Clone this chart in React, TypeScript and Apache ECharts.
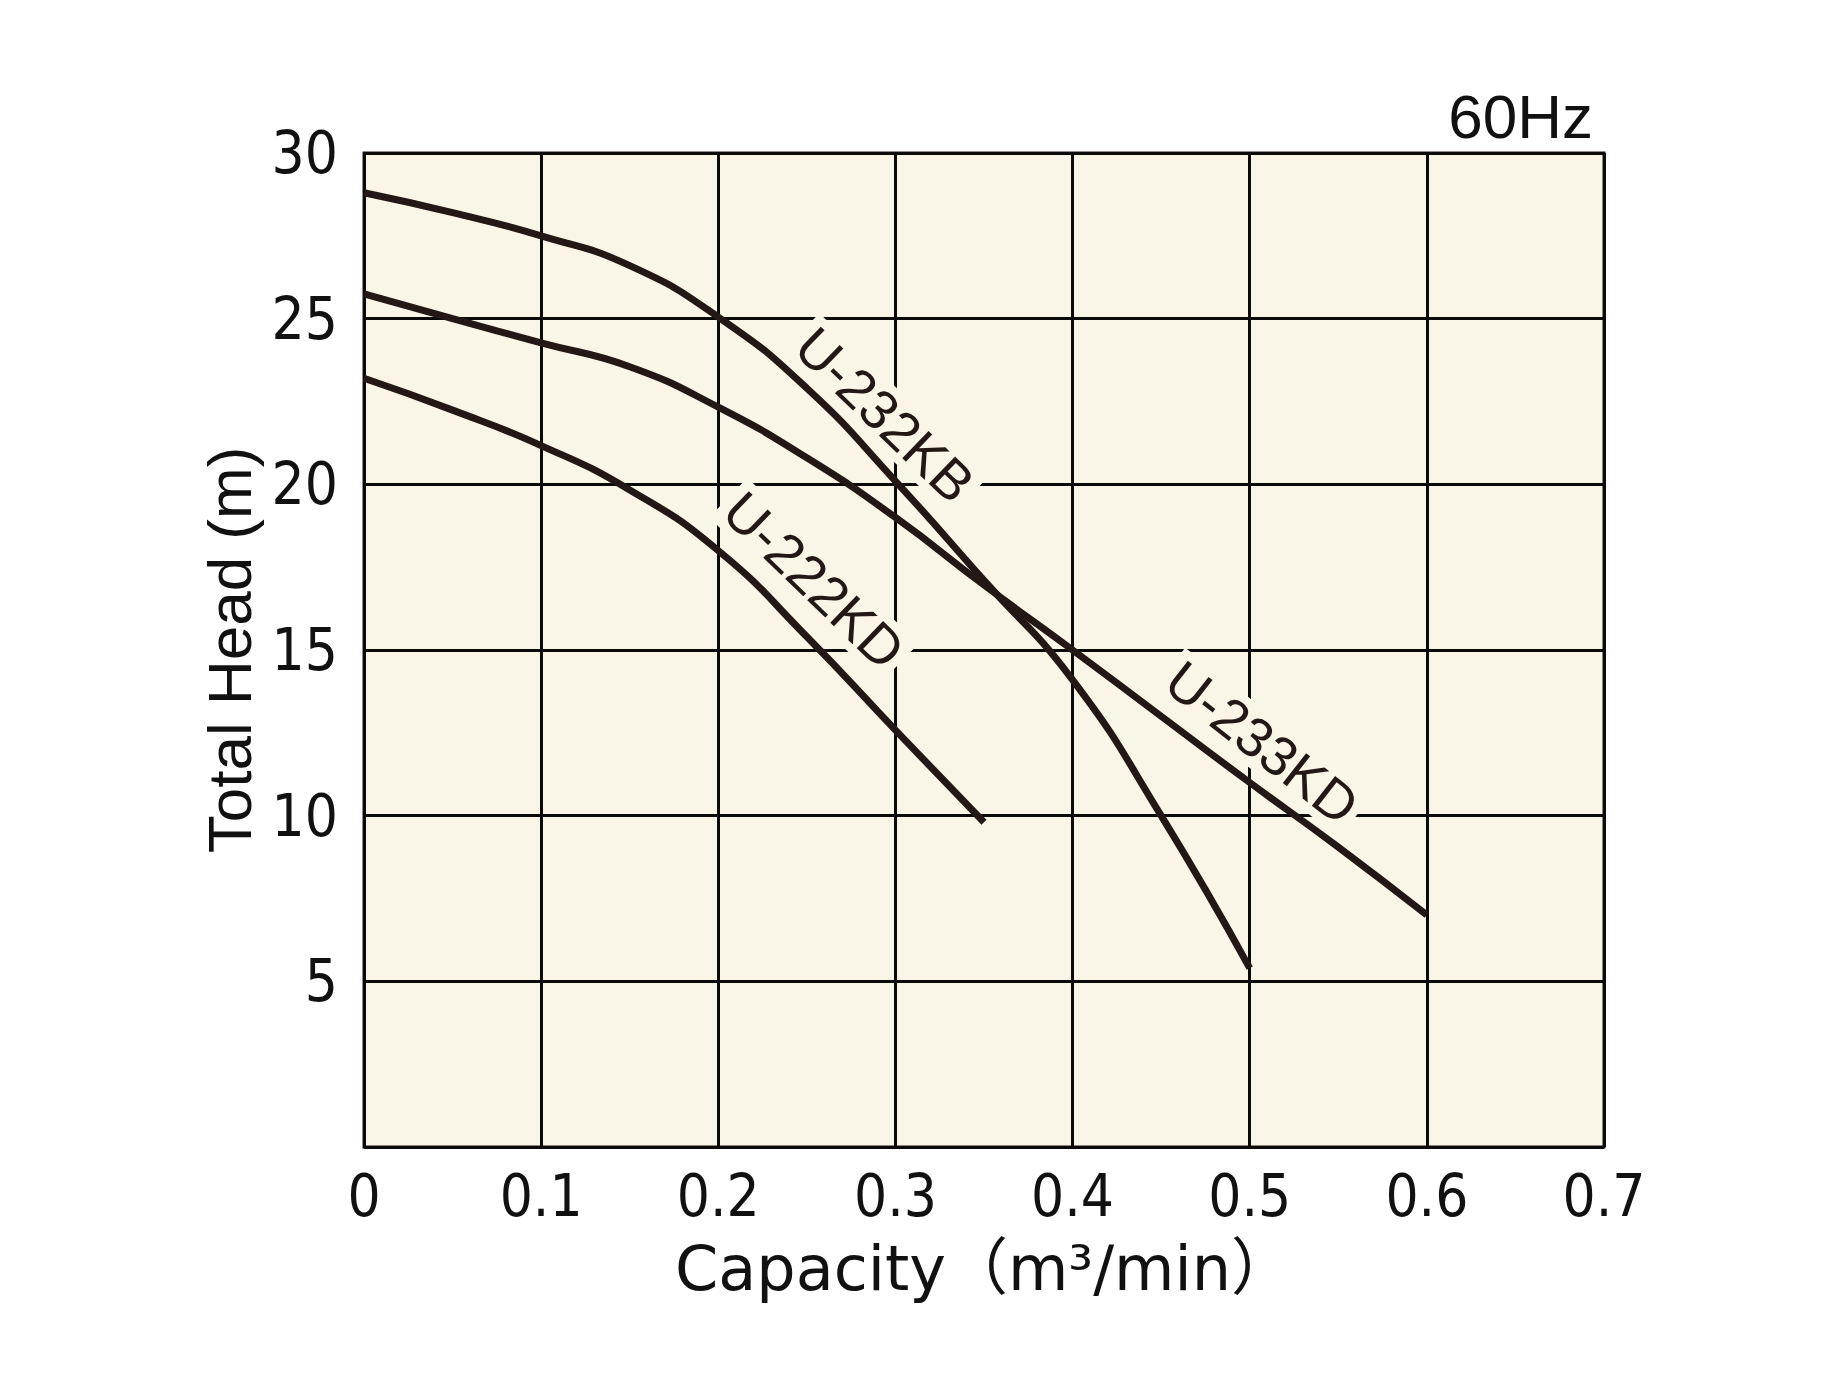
import React, { useEffect, useRef } from 'react';
import * as echarts from 'echarts';

// ---- Data ----
const capacity232KB = [0, 0.05, 0.1, 0.15, 0.2, 0.25, 0.3, 0.35, 0.4, 0.45, 0.5];
const head232KB = [28.8, 28.2, 27.5, 26.6, 25.05, 22.9, 20.1, 17.1, 14.1, 10.0, 5.4];

const capacity233KD = [0, 0.05, 0.1, 0.15, 0.2, 0.25, 0.3, 0.35, 0.4, 0.45, 0.5, 0.55, 0.6];
const head233KD = [25.75, 25.0, 24.27, 23.55, 22.33, 20.8, 19.0, 16.96, 15.0, 13.0, 11.0, 9.05, 7.0];

const capacity222KD = [0, 0.05, 0.1, 0.15, 0.2, 0.25, 0.3, 0.35];
const head222KD = [23.2, 22.24, 21.17, 19.83, 18.0, 15.4, 12.58, 9.8];

const modelNames = ['U-232KB', 'U-233KD', 'U-222KD'];
const frequencyLabel = '60Hz';
const xAxisTitle = 'Capacity（m³/min）';
const yAxisTitle = 'Total Head (m)';

// ---- Layout / style ----
const LINE_COLOR = '#231815';
const BG = '#FAF6E7';
const TICK_FONT = "'Liberation Sans Narrow', 'DejaVu Sans Condensed', 'Liberation Sans', Arial, sans-serif";
const TEXT_FONT = "'Liberation Sans', Arial, sans-serif";

// label anchor positions in data units (centre of the text), with rotation in degrees
const labelAnchors = [
  { name: modelNames[0], capacity: 0.294, head: 22.1, angle: 44 },
  { name: modelNames[1], capacity: 0.507, head: 12.2, angle: 38 },
  { name: modelNames[2], capacity: 0.254, head: 17.1, angle: 44 },
];

const zip = (xs: number[], ys: number[]) => xs.map((x, i) => [x, ys[i]]);

export default function App() {
  const ref = useRef<HTMLDivElement>(null);

  useEffect(() => {
    if (!ref.current) return;
    const chart = echarts.init(ref.current, null, { renderer: 'svg' });

    const lineSeries = (name: string, data: number[][]) => ({
      type: 'line',
      name,
      data,
      showSymbol: false,
      smooth: 0.5,
      z: 5,
      lineStyle: { color: LINE_COLOR, width: 7, cap: 'butt' },
      emphasis: { disabled: true },
    });

    chart.setOption({
      animation: false,
      backgroundColor: '#ffffff',
      grid: {
        left: 364,
        top: 153,
        width: 1240,
        height: 994,
        show: true,
        backgroundColor: BG,
        borderColor: LINE_COLOR,
        borderWidth: 3,
      },
      xAxis: {
        type: 'value',
        min: 0,
        max: 0.7,
        interval: 0.1,
        axisLine: { show: false },
        axisTick: { show: false },
        splitLine: { show: true, lineStyle: { color: '#0a0a0a', width: 3 } },
        axisLabel: {
          margin: 20,
          fontSize: 58,
          fontFamily: TICK_FONT,
          color: '#111',
          formatter: (v: number) => (v === 0 ? '0' : v.toFixed(1)),
        },
        name: xAxisTitle,
        nameLocation: 'middle',
        nameGap: 90,
        nameTextStyle: {
          fontSize: 62,
          fontFamily: "'DejaVu Sans', 'Noto Sans CJK JP', sans-serif",
          color: '#111',
        },
      },
      yAxis: {
        type: 'value',
        min: 0,
        max: 30,
        interval: 5,
        axisLine: { show: false },
        axisTick: { show: false },
        splitLine: { show: true, lineStyle: { color: '#0a0a0a', width: 3 } },
        axisLabel: {
          margin: 26,
          fontSize: 58,
          fontFamily: TICK_FONT,
          color: '#111',
          formatter: (v: number) => (v === 0 ? '' : String(v)),
        },
        name: yAxisTitle,
        nameLocation: 'middle',
        nameRotate: 90,
        nameGap: 100,
        nameTextStyle: {
          fontSize: 62,
          fontFamily: TEXT_FONT,
          color: '#111',
        },
      },
      series: [
        lineSeries(modelNames[0], zip(capacity232KB, head232KB)),
        lineSeries(modelNames[1], zip(capacity233KD, head233KD)),
        lineSeries(modelNames[2], zip(capacity222KD, head222KD)),
      ],
    });

    const labels = labelAnchors.map((a) => {
      const [px, py] = chart.convertToPixel({ gridIndex: 0 }, [a.capacity, a.head]) as number[];
      return {
        type: 'text',
        x: px,
        y: py,
        rotation: (-a.angle * Math.PI) / 180,
        z: 1,
        style: {
          text: a.name,
          align: 'center',
          verticalAlign: 'middle',
          fontSize: 55,
          fontFamily: TEXT_FONT,
          fill: LINE_COLOR,
          backgroundColor: BG,
          padding: [0, 6],
        },
      };
    });

    chart.setOption({
      graphic: [
        {
          type: 'text',
          x: 1593,
          y: 116,
          z: 1,
          style: {
            text: frequencyLabel,
            align: 'right',
            verticalAlign: 'middle',
            fontSize: 62,
            fontFamily: TEXT_FONT,
            fill: '#111',
          },
        },
        ...labels,
      ],
    });

    return () => chart.dispose();
  }, []);

  return (
    <div
      ref={ref}
      style={{ position: 'absolute', left: 0, top: 0, width: 1826, height: 1381 }}
    />
  );
}
